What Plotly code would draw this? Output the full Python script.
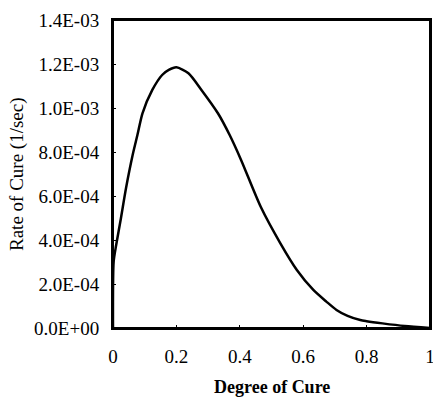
import plotly.graph_objects as go

degree_of_cure = [0, 0.002, 0.01, 0.025, 0.041, 0.062, 0.077, 0.093, 0.124, 0.155,
                  0.176, 0.2, 0.238, 0.279, 0.331, 0.368, 0.404, 0.466, 0.528, 0.58,
                  0.632, 0.673, 0.705, 0.74, 0.78, 0.8, 0.85, 0.92, 1.0]
rate_of_cure = [0, 0.30e-3, 0.377e-3, 0.499e-3, 0.635e-3, 0.786e-3, 0.877e-3, 0.976e-3,
                1.082e-3, 1.15e-3, 1.173e-3, 1.185e-3, 1.158e-3, 1.082e-3, 0.976e-3,
                0.877e-3, 0.764e-3, 0.551e-3, 0.385e-3, 0.264e-3, 0.173e-3, 0.12e-3,
                0.082e-3, 0.055e-3, 0.036e-3, 0.031e-3, 0.021e-3, 0.009e-3, 0.0]

x_tickvals = [0, 0.2, 0.4, 0.6, 0.8, 1.0]
x_ticktext = ["0", "0.2", "0.4", "0.6", "0.8", "1"]
y_tickvals = [0, 2e-4, 4e-4, 6e-4, 8e-4, 1.0e-3, 1.2e-3, 1.4e-3]
y_ticktext = ["0.0E+00", "2.0E-04", "4.0E-04", "6.0E-04", "8.0E-04",
              "1.0E-03", "1.2E-03", "1.4E-03"]
x_title = "Degree of Cure"
y_title = "Rate of Cure (1/sec)"

SERIF = "Liberation Serif, Times New Roman, serif"

fig = go.Figure()
fig.add_trace(go.Scatter(x=degree_of_cure, y=rate_of_cure, mode="lines",
                         line=dict(color="black", width=2.5, shape="spline", smoothing=0.7),
                         showlegend=False, hoverinfo="skip"))

fig.update_layout(
    width=433, height=398,
    margin=dict(l=113, r=3, t=20, b=70),
    paper_bgcolor="white", plot_bgcolor="white",
    font=dict(family=SERIF, size=19, color="black"),
)
fig.update_xaxes(range=[0, 1], tickvals=x_tickvals, ticktext=x_ticktext,
                 showgrid=False, zeroline=False, showline=True, linecolor="black",
                 linewidth=2, mirror=True, ticks="inside", ticklen=3, tickcolor="black",
                 automargin=False, ticklabelstandoff=10, ticklabeloverflow="allow",
                 tickfont=dict(family=SERIF, size=19, color="black"))
fig.update_yaxes(range=[0, 1.4e-3], tickvals=y_tickvals, ticktext=y_ticktext,
                 showgrid=False, zeroline=False, showline=True, linecolor="black",
                 linewidth=2, mirror=True, ticks="inside", ticklen=3, tickcolor="black",
                 automargin=False, ticklabelstandoff=8, ticklabeloverflow="allow",
                 tickfont=dict(family=SERIF, size=19, color="black"))

# plot frame
fig.add_shape(type="rect", xref="paper", yref="paper", x0=0, x1=1, y0=0, y1=1,
              line=dict(color="black", width=2), layer="above")

fig.add_annotation(text="<b>" + x_title + "</b>", xref="paper", yref="paper",
                   x=0.5, y=0, yshift=-59, xanchor="center", yanchor="middle",
                   showarrow=False, font=dict(family=SERIF, size=18, color="black"))
fig.add_annotation(text=y_title, xref="paper", yref="paper", textangle=-90,
                   x=0, y=0.5, xshift=-96, xanchor="center", yanchor="middle",
                   showarrow=False, font=dict(family=SERIF, size=19, color="black"))

fig.write_html("out.html", config={"displayModeBar": False},
               post_script="document.body.style.margin='0';document.body.style.overflow='hidden';")
